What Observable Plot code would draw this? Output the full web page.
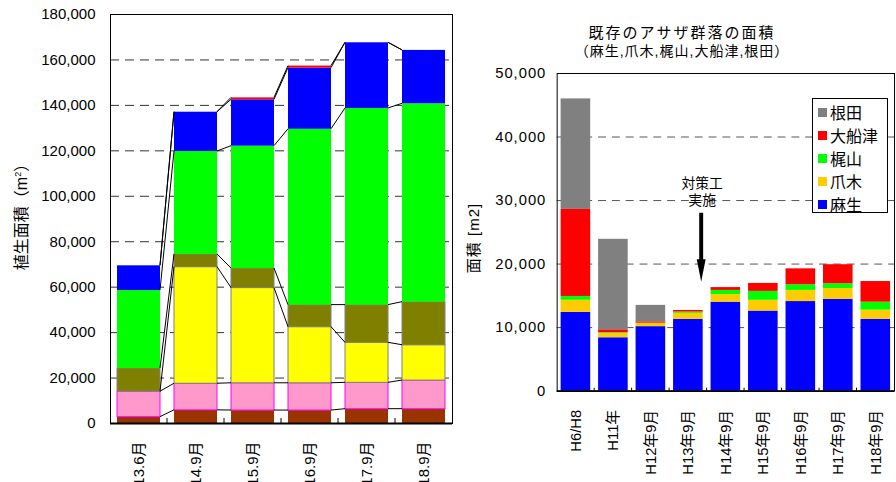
<!DOCTYPE html>
<html>
<head>
<meta charset="utf-8">
<script src="https://cdn.jsdelivr.net/npm/d3@7"></script>
<script src="https://cdn.jsdelivr.net/npm/@observablehq/plot@0.6"></script>
<style>
  html, body { margin: 0; padding: 0; background: #fff; overflow: hidden; }
  #wrap { position: relative; width: 896px; height: 482px; overflow: hidden;
          font-family: "Liberation Sans", "Noto Sans CJK JP", sans-serif; color: #000; }
  #left { position: absolute; left: 0; top: 0; }
  #right { position: absolute; left: 460px; top: 0; }
  .ylab { position: absolute; white-space: nowrap; font-size: 15px; line-height: 18px;
          transform: translate(-50%, -50%) rotate(-90deg); }
  .ylab sup { font-size: 9px; vertical-align: 6px; line-height: 0; }
  .ttl { position: absolute; white-space: nowrap; transform: translateX(-50%); line-height: 18px; }
  #legend { position: absolute; left: 812px; top: 98px; width: 76px; height: 115px;
            box-sizing: border-box; border: 1px solid #000; background: #fff; }
  #legend .item { position: absolute; left: 5px; height: 20px; display: flex; align-items: center;
                  font-size: 16px; white-space: nowrap; }
  #legend .sw { width: 9px; height: 9px; margin-right: 3px; }
</style>
</head>
<body>
<div id="wrap">
  <div id="left"></div>
  <div id="right"></div>
  <div class="ylab" style="left:22px; top:213px; font-size:16px;">植生面積（m<sup>2</sup>）</div>
  <div class="ylab" style="left:474px; top:238px; letter-spacing:1px;">面積 [m2]</div>
  <div class="ttl" style="left:682px; top:24px; font-size:15px; letter-spacing:2px;">既存のアサザ群落の面積</div>
  <div class="ttl" style="left:682px; top:42px; font-size:14px; letter-spacing:1px;">（麻生,爪木,梶山,大船津,根田）</div>
  <div id="legend"></div>
</div>
<script>
// ---- Vegetation area by survey (left panel), m2 ----
const periods = ["13.6月", "14.9月", "15.9月", "16.9月", "17.9月", "18.9月"];
const areaBrown  = [2800, 5800, 5700, 5700, 6300, 6300];
const areaPink   = [11200, 11700, 12000, 12000, 11600, 12600];
const areaYellow = [0, 51300, 41900, 24700, 17600, 15550];
const areaOlive  = [10200, 5600, 8600, 9700, 16600, 18950];
const areaGreen  = [34300, 45300, 53850, 77400, 86550, 87300];
const areaBlue   = [10900, 17300, 20400, 26900, 28900, 23500];
const areaRed    = [0, 0, 850, 900, 0, 0];
const leftTicks  = [0, 20000, 40000, 60000, 80000, 100000, 120000, 140000, 160000, 180000];

// ---- Existing Asaza colony area by site (right panel), m2 ----
const surveys = ["H6/H8", "H11年", "H12年9月", "H13年9月", "H14年9月", "H15年9月", "H16年9月", "H17年9月", "H18年9月"];
const sites = ["麻生", "爪木", "梶山", "大船津", "根田"];
const asou     = [12400, 8400, 10150, 11300, 14000, 12600, 14100, 14450, 11300];
const tsumaki  = [1900, 700, 500, 950, 1200, 1700, 1750, 1700, 1450];
const kajiyama = [600, 100, 50, 200, 650, 1400, 900, 750, 1250];
const ofunatsu = [13700, 450, 200, 250, 450, 1250, 2500, 3000, 3250];
const neda     = [17400, 14250, 2600, 0, 0, 0, 0, 0, 0];
const rightTicks = [0, 10000, 20000, 30000, 40000, 50000];

// countermeasure annotation
const measureAt = "H13年9月";
const measureLabel = "対策工\n実施";
const measureTextY = 31500;
const arrowTop = 28000;
const arrowTip = 17200;

// ---- styles ----
const FONT = `"Liberation Sans", "Noto Sans CJK JP", sans-serif`;
const leftSeries = [
  ["brown", areaBrown], ["pink", areaPink], ["yellow", areaYellow], ["olive", areaOlive],
  ["green", areaGreen], ["blue", areaBlue], ["red", areaRed]
];
const leftFill = { brown: "#993300", pink: "#FF99CC", yellow: "#FFFF00", olive: "#808000",
                   green: "#00FF00", blue: "#0000FF", red: "#FF0000" };
const leftEdge = { pink: "#FF00FF", yellow: "#808080", olive: "#808080" };
const siteSeries = [asou, tsumaki, kajiyama, ofunatsu, neda];
const siteFill = { "麻生": "#0000FF", "爪木": "#FFCC00", "梶山": "#00FF00", "大船津": "#FF0000", "根田": "#808080" };

const svgOf = (node) => node.tagName.toLowerCase() === "svg" ? node : node.querySelector("svg");

// tick marks at band boundaries, drawn upward from the baseline
function bandBoundaryTicks(chart, len) {
  const xs = chart.scale("x"), ys = chart.scale("y");
  const gap = (xs.step - xs.bandwidth) / 2;
  const base = ys.apply(0);
  const xsPos = xs.domain.slice(1).map((d) => xs.apply(d) - gap);
  d3.select(svgOf(chart)).append("g")
    .attr("stroke", "#000").attr("stroke-width", 1)
    .selectAll("line").data(xsPos).join("line")
    .attr("x1", (d) => d).attr("x2", (d) => d)
    .attr("y1", base).attr("y2", base - len);
}

// ---------------- left panel ----------------
const leftRows = leftSeries.flatMap(([layer, vals]) =>
  vals.map((v, i) => ({ period: periods[i], layer, value: v }))).filter((d) => d.value > 0);

const left = Plot.plot({
  width: 460, height: 482,
  marginLeft: 110, marginRight: 8, marginTop: 14, marginBottom: 59,
  style: { fontFamily: FONT, fontSize: "15px", background: "transparent", color: "#000" },
  color: { type: "identity" },
  x: { domain: periods, paddingInner: 0.25, paddingOuter: 0.125, label: null,
       tickSize: 0, tickPadding: 18, tickRotate: -90 },
  y: { domain: [0, 180000], ticks: leftTicks, tickFormat: d3.format(","), label: null,
       tickSize: 0, tickPadding: 15 },
  marks: [
    Plot.ruleY(leftTicks.slice(1, -1), { stroke: "#333", strokeDasharray: "9,6" }),
    Plot.barY(leftRows, {
      x: "period", y: "value",
      fill: (d) => leftFill[d.layer],
      stroke: (d) => leftEdge[d.layer] || "none",
      strokeWidth: 1
    }),
    Plot.frame({ stroke: "#000" }),
    Plot.ruleY([0], { stroke: "#000", strokeWidth: 2 })
  ]
});
document.getElementById("left").append(left);

// series lines joining each layer boundary between neighbouring bars
{
  const xs = left.scale("x"), ys = left.scale("y");
  const cum = periods.map((_, i) => {
    let s = 0;
    return leftSeries.map(([, vals]) => (s += vals[i]));
  });
  const segs = [];
  for (let i = 0; i < periods.length - 1; i++) {
    for (let k = 0; k < leftSeries.length; k++) {
      segs.push({
        x1: xs.apply(periods[i]) + xs.bandwidth, y1: ys.apply(cum[i][k]),
        x2: xs.apply(periods[i + 1]), y2: ys.apply(cum[i + 1][k])
      });
    }
  }
  d3.select(svgOf(left)).append("g")
    .attr("stroke", "#000").attr("stroke-width", 1).attr("fill", "none")
    .selectAll("line").data(segs).join("line")
    .attr("x1", (d) => d.x1).attr("y1", (d) => d.y1)
    .attr("x2", (d) => d.x2).attr("y2", (d) => d.y2);
  bandBoundaryTicks(left, 5);
}

// ---------------- right panel ----------------
const rightRows = sites.flatMap((site, s) =>
  siteSeries[s].map((v, i) => ({ survey: surveys[i], site, value: v }))).filter((d) => d.value > 0);

const arrowHead = {
  draw(ctx) {
    ctx.moveTo(0, 0);
    ctx.lineTo(-4.5, -23);
    ctx.lineTo(4.5, -23);
    ctx.closePath();
  }
};

const right = Plot.plot({
  width: 442, height: 482,
  marginLeft: 98, marginRight: 2, marginTop: 74, marginBottom: 86,
  style: { fontFamily: FONT, fontSize: "15px", background: "transparent", color: "#000" },
  color: { type: "identity" },
  x: { domain: surveys, paddingInner: 0.21, paddingOuter: 0.105, label: null,
       tickSize: 0, tickPadding: 19, tickRotate: -90 },
  y: { domain: [0, 50000], ticks: rightTicks, tickFormat: d3.format(","), label: null,
       tickSize: 0, tickPadding: 11 },
  marks: [
    Plot.ruleY(rightTicks.slice(1, -1), { stroke: "#555", strokeDasharray: "8,6" }),
    Plot.barY(rightRows, { x: "survey", y: "value", fill: (d) => siteFill[d.site] }),
    Plot.text([measureAt], { x: (d) => d, y: measureTextY, text: () => measureLabel,
                             dx: 14, fontSize: 14, lineHeight: 1.2, fill: "#000" }),
    Plot.ruleX([measureAt], { x: (d) => d, y1: arrowTop, y2: arrowTip + 2000,
                              stroke: "#000", strokeWidth: 4, dx: 13 }),
    Plot.dot([measureAt], { x: (d) => d, y: arrowTip, symbol: arrowHead, r: 5,
                            fill: "#000", stroke: "none", dx: 13 }),
    Plot.frame({ stroke: "#000" }),
    Plot.ruleY([0], { stroke: "#000", strokeWidth: 2 })
  ]
});
document.getElementById("right").append(right);
d3.select(svgOf(right)).selectAll('g[aria-label^="y-axis"] text').style("letter-spacing", "1px");
bandBoundaryTicks(right, 3);

// legend, top of stack first
const legend = d3.select("#legend");
sites.slice().reverse().forEach((site, i) => {
  const item = legend.append("div").attr("class", "item").style("top", `${3 + i * 23}px`);
  item.append("div").attr("class", "sw").style("background", siteFill[site]);
  item.append("span").text(site);
});
</script>
</body>
</html>
